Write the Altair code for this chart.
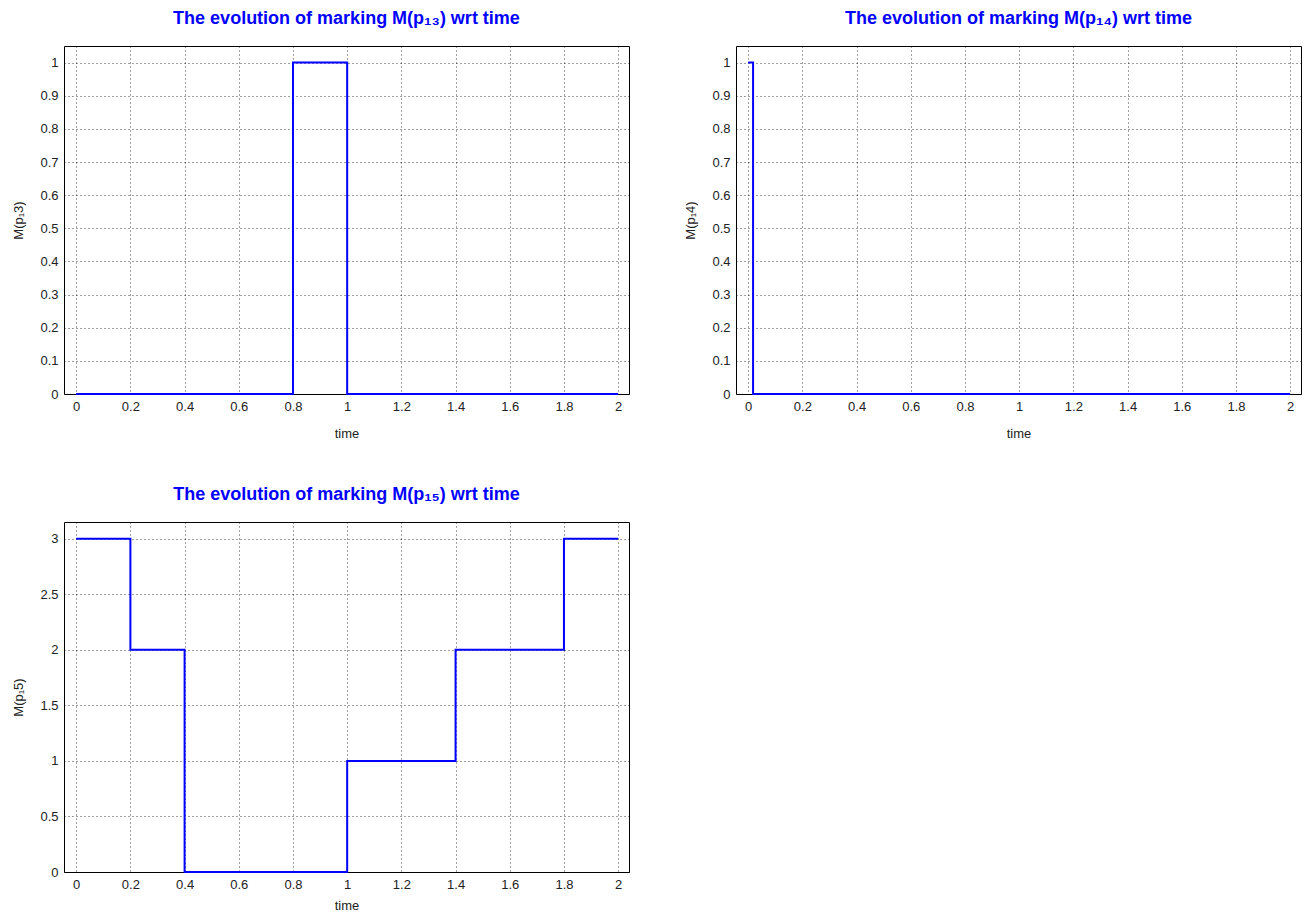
import altair as alt
import pandas as pd

# ---- data ----
t13 = [0.0, 0.8, 1.0, 2.0]
m13 = [0, 1, 0, 0]

t14 = [0.0, 0.018, 2.0]
m14 = [1, 0, 0]

t15 = [0.0, 0.2, 0.4, 1.0, 1.4, 1.8, 2.0]
m15 = [3, 2, 0, 1, 2, 3, 3]

x_ticks = [0, 0.2, 0.4, 0.6, 0.8, 1.0, 1.2, 1.4, 1.6, 1.8, 2.0]
y_ticks_a = [0, 0.1, 0.2, 0.3, 0.4, 0.5, 0.6, 0.7, 0.8, 0.9, 1.0]
y_ticks_b = [0, 0.5, 1.0, 1.5, 2.0, 2.5, 3.0]

FONT = "Liberation Sans"
BLUE = "#0000ff"


def panel(t, m, title, ytitle, ydom, yticks, w, h, xtp):
    df = pd.DataFrame({"time": t, "m": m})
    return (
        alt.Chart(df, title=alt.Title(title, fontSize=18, fontWeight="bold", color=BLUE,
                                      font=FONT, offset=18, anchor="middle"))
        .mark_line(interpolate="step-after", color=BLUE, strokeWidth=2)
        .encode(
            x=alt.X("time:Q",
                    scale=alt.Scale(domain=[-0.045, 2.04], nice=False, zero=False),
                    axis=alt.Axis(values=x_ticks, format="~g", title="time",
                                  titlePadding=xtp)),
            y=alt.Y("m:Q",
                    scale=alt.Scale(domain=ydom, nice=False),
                    axis=alt.Axis(values=yticks, format="~g", title=ytitle)),
        )
        .properties(width=w, height=h)
    )


c1 = panel(t13, m13, "The evolution of marking M(p₁₃) wrt time", "M(p₁3)",
           [0, 1.05], y_ticks_a, 565, 348, 14)
c2 = panel(t14, m14, "The evolution of marking M(p₁₄) wrt time", "M(p₁4)",
           [0, 1.05], y_ticks_a, 565, 348, 14)
c3 = panel(t15, m15, "The evolution of marking M(p₁₅) wrt time", "M(p₁5)",
           [0, 3.15], y_ticks_b, 565, 350, 8)

chart = (
    alt.vconcat(alt.hconcat(c1, c2, spacing=54), c3, spacing=44)
    .properties(padding={"left": 4, "top": 1, "right": 0, "bottom": 0})
    .configure(background="white")
    .configure_view(stroke="#000000", strokeWidth=1)
    .configure_axis(
        domain=False,
        ticks=False,
        labelPadding=6,
        labelFont=FONT,
        labelFontSize=13,
        labelColor="#222222",
        titleFont=FONT,
        titleFontSize=13,
        titleFontWeight="normal",
        titleColor="#222222",
        grid=True,
        gridColor="#000000",
        gridOpacity=0.75,
        gridDash=[1, 3],
        gridWidth=1,
    )
    .configure_axisY(titlePadding=14)
)

chart.save("out.html", embed_options={"renderer": "svg", "actions": False})
